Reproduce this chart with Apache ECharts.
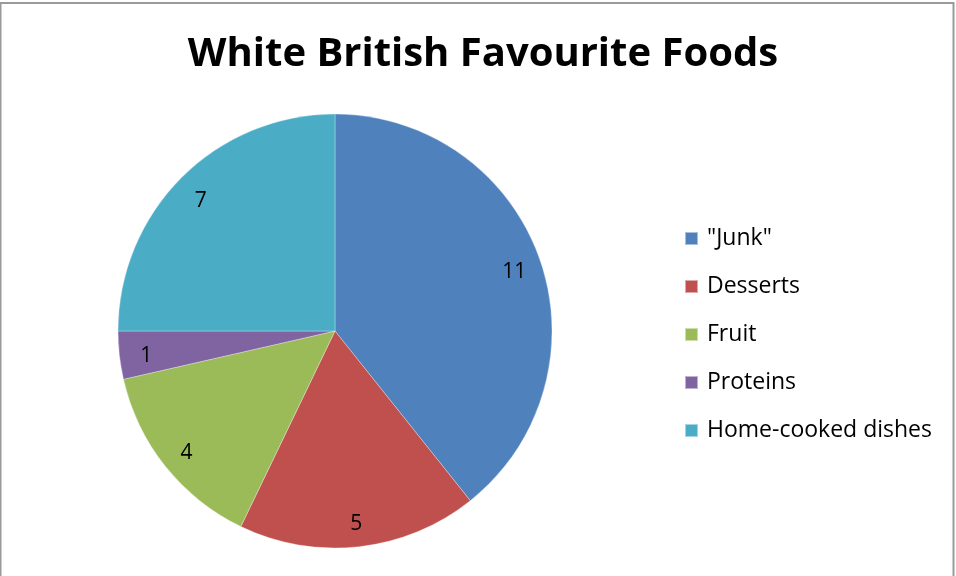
<!DOCTYPE html>
<html>
<head>
<meta charset="utf-8">
<script src="https://cdn.jsdelivr.net/npm/echarts@6/dist/echarts.min.js"></script>
<style>
  html, body { margin: 0; padding: 0; background: #fff; }
  #chart { width: 956px; height: 576px; }
</style>
</head>
<body>
<div id="chart"></div>
<script>
// Favourite food categories and how many people picked each
const categories = ['"Junk"', 'Desserts', 'Fruit', 'Proteins', 'Home-cooked dishes'];
const counts = [11, 5, 4, 1, 7];
const colors = ['#4F81BD', '#C0504D', '#9BBB59', '#8064A2', '#4BACC6'];
const titleText = 'White British Favourite Foods';

const font = '"Open Sans", Lato, sans-serif';
const pieData = categories.map((name, i) => ({ name, value: counts[i], itemStyle: { color: colors[i] } }));

const chart = echarts.init(document.getElementById('chart'), null, { renderer: 'canvas' });
chart.setOption({
  animation: false,
  backgroundColor: '#ffffff',
  title: {
    text: titleText,
    left: 478,
    textAlign: 'center',
    top: 30,
    textStyle: { fontFamily: font, fontWeight: 'bold', fontSize: 40, color: '#000' }
  },
  legend: {
    orient: 'vertical',
    left: 679,
    top: 222,
    itemWidth: 13,
    itemHeight: 13,
    itemGap: 25,
    icon: 'rect',
    data: categories,
    textStyle: { fontFamily: font, fontSize: 23, color: '#000', padding: [0, 0, 0, 4] }
  },
  graphic: [{
    type: 'rect',
    shape: { x: 0.5, y: 3, width: 953, height: 600 },
    style: { fill: 'none', stroke: '#9a9a9a', lineWidth: 2 },
    silent: true
  }],
  series: [
    {
      type: 'pie',
      center: [335, 331],
      radius: [0, 217],
      startAngle: 90,
      clockwise: true,
      label: { show: false },
      labelLine: { show: false },
      itemStyle: { borderColor: 'rgba(255,255,255,0.5)', borderWidth: 0.6 },
      emphasis: { disabled: true },
      data: pieData
    },
    {
      // transparent ring used only to place the value labels near the rim
      type: 'pie',
      center: [335, 335],
      radius: [157, 217],
      startAngle: 90,
      clockwise: true,
      silent: true,
      z: 3,
      itemStyle: { color: 'rgba(0,0,0,0)', borderWidth: 0 },
      label: {
        show: true,
        position: 'inside',
        formatter: '{c}',
        fontFamily: font,
        fontSize: 21,
        color: '#000'
      },
      labelLine: { show: false },
      emphasis: { disabled: true },
      data: categories.map((name, i) => ({ name, value: counts[i] }))
    }
  ]
});
</script>
</body>
</html>
